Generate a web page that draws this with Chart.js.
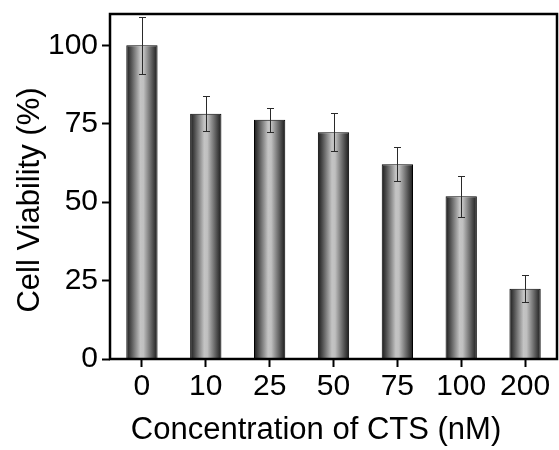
<!DOCTYPE html>
<html>
<head>
<meta charset="utf-8">
<script src="https://cdn.jsdelivr.net/npm/chart.js@4"></script>
<style>
  html, body { margin: 0; padding: 0; background: #fff; }
  #wrap { width: 559px; height: 450px; position: relative; }
</style>
</head>
<body>
<div id="wrap"><canvas id="barChart"></canvas></div>
<script>
// data
const concentrations = ["0", "10", "25", "50", "75", "100", "200"];
const viability = [100, 78.2, 76.3, 72.3, 62.1, 51.9, 22.4];
const errors = [9, 5.6, 3.8, 6, 5.5, 6.5, 4.3];
const yTicks = [0, 25, 50, 75, 100];
const xTitle = "Concentration of CTS (nM)";
const yTitle = "Cell Viability (%)";

const FONT = "'Liberation Sans', Arial, sans-serif";
const BAR_PCT = 0.98;
const CAT_PCT = 0.5;

// horizontal grey gradient for each bar, worked out from the x scale
function barFill(context) {
  const chart = context.chart;
  const xs = chart.scales.x;
  if (!xs || !chart.chartArea) return "#888";
  const cx = xs.getPixelForValue(context.dataIndex);
  const w = ((xs.right - xs.left) / concentrations.length) * CAT_PCT * BAR_PCT;
  const x0 = cx - w / 2;
  const g = chart.ctx.createLinearGradient(x0, 0, x0 + w, 0);
  g.addColorStop(0, "#1a1a1a");
  g.addColorStop(0.15, "#505050");
  g.addColorStop(0.45, "#c4c4c4");
  g.addColorStop(0.55, "#c0c0c0");
  g.addColorStop(0.85, "#505050");
  g.addColorStop(1, "#1a1a1a");
  return g;
}

// error bars from the errors array
const errorBars = {
  id: "errorBars",
  afterDatasetsDraw(chart) {
    const ctx = chart.ctx;
    const y = chart.scales.y;
    ctx.save();
    ctx.strokeStyle = "#2a2a2a";
    ctx.lineWidth = 1;
    chart.getDatasetMeta(0).data.forEach((bar, i) => {
      const top = Math.round(y.getPixelForValue(viability[i] + errors[i])) + 0.5;
      const bot = Math.round(y.getPixelForValue(viability[i] - errors[i])) + 0.5;
      const x = Math.round(bar.x) + 0.5;
      ctx.beginPath();
      ctx.moveTo(x, top);
      ctx.lineTo(x, bot);
      ctx.moveTo(x - 3.5, top);
      ctx.lineTo(x + 3.5, top);
      ctx.moveTo(x - 3.5, bot);
      ctx.lineTo(x + 3.5, bot);
      ctx.stroke();
    });
    ctx.restore();
  },
};

// box around the plot area and the two axis titles
const frame = {
  id: "frame",
  afterDraw(chart) {
    const a = chart.chartArea;
    const ctx = chart.ctx;
    ctx.save();
    ctx.strokeStyle = "#000";
    ctx.lineWidth = 2.5;
    ctx.strokeRect(a.left, a.top, a.right - a.left, a.bottom - a.top);

    ctx.fillStyle = "#000";
    ctx.font = "31px " + FONT;
    ctx.textAlign = "center";
    ctx.textBaseline = "middle";
    ctx.fillText(xTitle, 316, 430);
    ctx.translate(30, 200);
    ctx.rotate(-Math.PI / 2);
    ctx.fillText(yTitle, 0, 0);
    ctx.restore();
  },
};

new Chart(document.getElementById("barChart"), {
  type: "bar",
  data: {
    labels: concentrations,
    datasets: [
      {
        data: viability,
        backgroundColor: barFill,
        borderColor: "#000",
        borderWidth: 1,
        barPercentage: BAR_PCT,
        categoryPercentage: CAT_PCT,
      },
    ],
  },
  options: {
    responsive: true,
    maintainAspectRatio: false,
    animation: false,
    layout: { padding: { top: 14, right: 2, left: 0, bottom: 0 } },
    plugins: {
      legend: { display: false },
      tooltip: { enabled: false },
    },
    scales: {
      x: {
        offset: true,
        grid: {
          offset: false,
          drawOnChartArea: false,
          tickLength: 8,
          tickWidth: 2,
          tickColor: "#000",
        },
        border: { display: false },
        ticks: {
          color: "#000",
          font: { family: FONT, size: 30 },
          padding: 2,
          maxRotation: 0,
          autoSkip: false,
        },
        afterFit: (scale) => {
          scale.height = 91;
          scale.paddingLeft = 0;
          scale.paddingRight = 0;
        },
      },
      y: {
        min: 0,
        max: 110,
        afterBuildTicks: (scale) => {
          scale.ticks = yTicks.map((v) => ({ value: v }));
        },
        grid: {
          drawOnChartArea: false,
          tickLength: 8,
          tickWidth: 2,
          tickColor: "#000",
        },
        border: { display: false },
        ticks: {
          color: "#000",
          font: { family: FONT, size: 30 },
          padding: 4,
        },
        afterFit: (scale) => {
          scale.width = 110;
          scale.paddingTop = 0;
          scale.paddingBottom = 0;
        },
      },
    },
  },
  plugins: [errorBars, frame],
});
</script>
</body>
</html>
